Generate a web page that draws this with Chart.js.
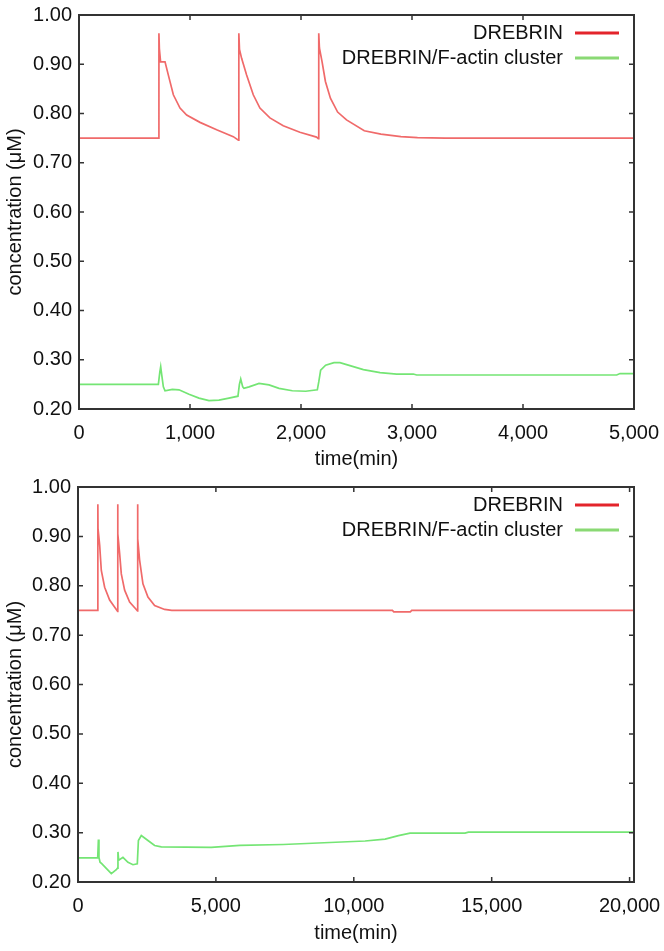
<!DOCTYPE html>
<html>
<head>
<meta charset="utf-8">
<script src="https://cdn.jsdelivr.net/npm/chart.js@4.4.1/dist/chart.umd.min.js"></script>
<style>
  html, body { margin: 0; padding: 0; background: #fff; }
  #top { position: absolute; left: 0; top: 0; width: 664px; height: 475px; }
  #bot { position: absolute; left: 0; top: 475px; width: 664px; height: 476px; }
</style>
</head>
<body>
<div id="top"><canvas id="c1"></canvas></div>
<div id="bot"><canvas id="c2"></canvas></div>
<script>
// labels
const seriesLabels = ['DREBRIN', 'DREBRIN/F-actin cluster'];
const yTicks = [0.2, 0.3, 0.4, 0.5, 0.6, 0.7, 0.8, 0.9, 1.0];
const topXTicks = [0, 1000, 2000, 3000, 4000, 5000];
const botXTicks = [0, 5000, 10000, 15000, 20000];

// top panel (0 - 5000 min)
const topDrebrinT = [0, 718, 720, 724, 735, 775, 805, 850, 910, 970, 1090, 1240, 1390, 1436,
  1440, 1446, 1465, 1510, 1570, 1630, 1720, 1840, 1990, 2140, 2156,
  2160, 2166, 2190, 2220, 2265, 2330, 2410, 2570, 2720, 2900, 3050, 3300, 5000];
const topDrebrinV = [0.75, 0.75, 0.963, 0.932, 0.905, 0.905, 0.878, 0.838, 0.811, 0.797, 0.782, 0.767, 0.753, 0.746,
  0.963, 0.93, 0.912, 0.878, 0.838, 0.811, 0.791, 0.775, 0.762, 0.752, 0.749,
  0.963, 0.933, 0.905, 0.865, 0.831, 0.803, 0.787, 0.765, 0.758, 0.753, 0.751, 0.75, 0.75];

const topClusterT = [0, 715, 728, 736, 745, 760, 775, 841, 901, 991, 1081, 1171, 1261, 1351, 1432,
  1445, 1457, 1475, 1486, 1532, 1622, 1712, 1802, 1922, 2042, 2147,
  2160, 2177, 2222, 2297, 2351, 2441, 2562, 2712, 2862, 3012, 3042, 4844, 4874, 5000];
const topClusterV = [0.25, 0.25, 0.275, 0.286, 0.27, 0.245, 0.237, 0.24, 0.239, 0.23, 0.222, 0.217, 0.218, 0.222, 0.226,
  0.25, 0.261, 0.245, 0.242, 0.245, 0.252, 0.249, 0.242, 0.237, 0.236, 0.239,
  0.255, 0.279, 0.289, 0.294, 0.294, 0.288, 0.28, 0.274, 0.271, 0.271, 0.269, 0.269, 0.272, 0.272];

// bottom panel (0 - 20160 min)
const botDrebrinT = [0, 718, 720, 726, 786, 845, 966, 1147, 1389, 1438,
  1440, 1446, 1510, 1570, 1691, 1872, 2113, 2158,
  2160, 2170, 2234, 2355, 2536, 2778, 3140, 3400, 11400, 11450, 12050, 12100, 20160];
const botDrebrinV = [0.75, 0.75, 0.965, 0.916, 0.882, 0.831, 0.797, 0.771, 0.752, 0.748,
  0.965, 0.905, 0.865, 0.824, 0.791, 0.767, 0.752, 0.749,
  0.965, 0.895, 0.852, 0.804, 0.777, 0.76, 0.752, 0.75, 0.75, 0.747, 0.747, 0.75, 0.75];

const botClusterT = [0, 715, 740, 760, 800, 860, 1087, 1208, 1389, 1432, 1449, 1475, 1630, 1812, 1993, 2150,
  2190, 2295, 2536, 2778, 3019, 4831, 5870, 7440, 9130, 10411, 11136, 11620, 12040, 14033, 14155, 20160];
const botClusterV = [0.249, 0.249, 0.286, 0.25, 0.24, 0.237, 0.224, 0.217, 0.225, 0.228, 0.261, 0.244, 0.25, 0.24, 0.235, 0.237,
  0.284, 0.294, 0.284, 0.274, 0.271, 0.27, 0.274, 0.276, 0.28, 0.283, 0.287, 0.294, 0.299, 0.299, 0.301, 0.301];

const lineColors = ['#f06a6a', '#74e574'];
const legendColors = ['#e3242b', '#8ad974'];

Chart.defaults.font.family = '"Liberation Sans", Arial, Helvetica, sans-serif';
Chart.defaults.font.size = 20;
Chart.defaults.color = '#111';

function pts(t, v) {
  return t.map((x, i) => ({ x: x, y: v[i] }));
}

// frame with inward ticks + legend inside the plot
const framePlugin = {
  id: 'frame',
  afterDatasetsDraw(chart) {
    const { ctx, chartArea: a, scales: { x, y } } = chart;
    ctx.save();
    ctx.strokeStyle = '#333';
    ctx.lineWidth = 1.5;
    ctx.beginPath();
    x.ticks.forEach(t => {
      const px = x.getPixelForValue(t.value);
      ctx.moveTo(px, a.bottom); ctx.lineTo(px, a.bottom - 5);
      ctx.moveTo(px, a.top); ctx.lineTo(px, a.top + 5);
    });
    y.ticks.forEach(t => {
      const py = y.getPixelForValue(t.value);
      ctx.moveTo(a.left, py); ctx.lineTo(a.left + 5, py);
      ctx.moveTo(a.right, py); ctx.lineTo(a.right - 5, py);
    });
    ctx.stroke();
    ctx.lineWidth = 2;
    ctx.strokeRect(a.left, a.top, a.right - a.left, a.bottom - a.top);

    ctx.font = '20px "Liberation Sans", Arial, sans-serif';
    ctx.textAlign = 'right';
    ctx.textBaseline = 'middle';
    chart.data.datasets.forEach((ds, i) => {
      const ly = a.top + 18 + i * 25;
      ctx.fillStyle = '#111';
      ctx.fillText(ds.label, a.right - 71, ly);
      ctx.strokeStyle = legendColors[i];
      ctx.lineWidth = 3;
      ctx.beginPath();
      ctx.moveTo(a.right - 59, ly);
      ctx.lineTo(a.right - 15, ly);
      ctx.stroke();
    });
    ctx.restore();
  }
};

function makeChart(id, redT, redV, greenT, greenV, xMax, xTicks, g) {
  return new Chart(document.getElementById(id), {
    type: 'line',
    data: {
      datasets: [
        { label: seriesLabels[0], data: pts(redT, redV), borderColor: lineColors[0], borderWidth: 1.7 },
        { label: seriesLabels[1], data: pts(greenT, greenV), borderColor: lineColors[1], borderWidth: 1.7 }
      ]
    },
    options: {
      responsive: true,
      maintainAspectRatio: false,
      animation: false,
      layout: { padding: { top: g.padTop, right: 30, left: 0, bottom: 0 } },
      elements: { point: { radius: 0 }, line: { tension: 0 } },
      plugins: { legend: { display: false }, tooltip: { enabled: false } },
      scales: {
        x: {
          type: 'linear', min: 0, max: xMax,
          grid: { display: false, drawTicks: false },
          border: { display: false },
          ticks: { padding: 12, maxRotation: 0, autoSkip: false,
            callback: v => v.toLocaleString('en-US') },
          afterBuildTicks: s => { s.ticks = xTicks.map(v => ({ value: v })); },
          title: { display: true, text: 'time(min)', padding: { top: 0, bottom: g.titlePad } },
          afterFit: s => { s.height = g.xHeight; s.paddingLeft = 0; s.paddingRight = 0; }
        },
        y: {
          type: 'linear', min: 0.2, max: 1.0,
          grid: { display: false, drawTicks: false },
          border: { display: false },
          ticks: { padding: 7, autoSkip: false, callback: v => v.toFixed(2) },
          afterBuildTicks: s => { s.ticks = yTicks.map(v => ({ value: v })); },
          title: { display: true, text: 'concentration (μM)', padding: { top: 3, bottom: 0 } },
          afterFit: s => { s.width = g.yWidth; s.paddingTop = 0; s.paddingBottom = 0; }
        }
      }
    },
    plugins: [framePlugin]
  });
}

makeChart('c1', topDrebrinT, topDrebrinV, topClusterT, topClusterV, 5000, topXTicks,
  { padTop: 15, xHeight: 66, yWidth: 79, titlePad: 4 });
makeChart('c2', botDrebrinT, botDrebrinV, botClusterT, botClusterV, 20160, botXTicks,
  { padTop: 12, xHeight: 69, yWidth: 78, titlePad: 6 });
</script>
</body>
</html>
